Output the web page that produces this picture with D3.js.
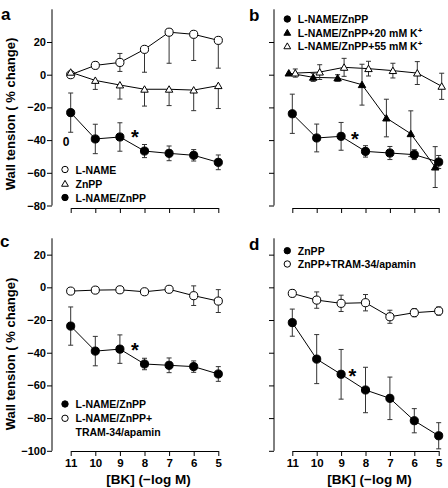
<!DOCTYPE html>
<html><head><meta charset="utf-8">
<script src="https://cdn.jsdelivr.net/npm/d3@7"></script>
<style>body{margin:0;background:#fff}svg{display:block}text{font-family:"Liberation Sans",Arial,sans-serif;font-weight:bold;fill:#000}</style>
</head><body>
<script>
const doses = [11, 10, 9, 8, 7, 6, 5];
const yTicksTop = [20, 0, -20, -40, -60, -80];
const yTicksBottom = [20, 0, -20, -40, -60, -80, -100];

// Panel a
const aLname = [0, 5.7, 7.5, 15.5, 26, 24.7, 21];
const aLnameErrHi = [0, 2, 5.5, 0, 0, 0, 0];
const aLnameErrLo = [0, 2, 5.5, 14, 19, 16, 17];
const aZnpp = [1.5, -3.5, -6.3, -8.9, -8.9, -9.4, -6.7];
const aZnppErrHi = [0, 0, 0, 0, 0, 0, 0];
const aZnppErrLo = [0, 5.5, 8.6, 10.3, 10, 12.6, 14];
const aBoth = [-23.2, -39.3, -38.1, -46.7, -48.1, -49.3, -53.6];
const aBothErr = [12, 9, 8.7, 4, 4.5, 3.5, 4.5];

// Panel b
const bBoth = [-23.9, -38.7, -37.7, -46.9, -47.9, -48.9, -53.4];
const bBothErr = [12, 8.5, 8.5, 3.5, 4, 3, 4];
const bK20 = [1, -1.6, -2, -6.1, -26.5, -36.1, -56.5];
const bK20Err = [0, 2.5, 2, 12.5, 11.5, 14, 12.5];
const bK55 = [1, 1.6, 4.5, 3.7, 2.5, 1, -7.1];
const bK55Err = [2.5, 4.5, 5.5, 4.5, 4.5, 7, 8];

// Panel c
const cBoth = [-23.7, -39, -37.8, -46.9, -47.7, -48.5, -53];
const cBothErr = [11.7, 9, 8.7, 3.5, 4.5, 3.5, 4.5];
const cTram = [-2.3, -1.7, -1.5, -2.7, -1.2, -5.1, -8.4];
const cTramErr = [1.5, 1, 1, 0.5, 0.5, 6, 7];

// Panel d
const dZnpp = [-21.6, -43.9, -53.2, -62.8, -67.9, -81.6, -90.8];
const dZnppErr = [8.3, 15, 15.2, 13.9, 13, 7.4, 8];
const dTram = [-3.7, -7.8, -9.8, -9.4, -18, -15.5, -14.5];
const dTramErr = [2, 5, 5, 5, 4, 2.5, 2.5];

const W = 448, H = 488;
const svg = d3.select("body").append("svg").attr("width", W).attr("height", H);

function marker(g, shape, filled, cx, cy, small) {
  const type = shape === "tri" ? d3.symbolTriangle : d3.symbolCircle;
  const size = shape === "tri" ? (small ? 20 : 24) : (small ? 32 : 52);
  g.append("path")
    .attr("d", d3.symbol().type(type).size(size)())
    .attr("transform", `translate(${cx},${cy + (shape === "tri" ? 0.8 : 0)})`)
    .attr("fill", filled ? "#000" : "#fff")
    .attr("stroke", "#000").attr("stroke-width", 1);
}

function panel(cfg) {
  const g = svg.append("g");
  const x = d3.scalePoint().domain(doses).range(cfg.xRange);
  const y = d3.scaleLinear().domain(cfg.yDomain).range(cfg.yRange);

  // y axis
  const yAxis = d3.axisLeft(y).tickValues(cfg.yTicks).tickSize(5).tickSizeOuter(0)
    .tickFormat(cfg.yLabels ? (d => d === 0 ? "0" : d3.format("")(d).replace("-", "\u2212")) : () => "");
  const ya = g.append("g").attr("transform", `translate(${cfg.yAxisX},0)`).call(yAxis);
  ya.select(".domain").remove();
  ya.append("line").attr("x1", 0).attr("x2", 0)
    .attr("y1", y(cfg.yDomain[1])).attr("y2", y(cfg.yDomain[0])).attr("stroke", "#000");
  ya.selectAll(".tick text").attr("font-size", 11).attr("x", -6).attr("fill", "#000")
    .style("font-family", '"Liberation Sans",Arial,sans-serif').style("font-weight", "bold");
  ya.selectAll(".tick line").attr("stroke", "#000");

  // x axis
  const xAxis = d3.axisBottom(x).tickSize(5).tickSizeOuter(0)
    .tickFormat(cfg.xLabels ? d => String(d) : () => "");
  const xa = g.append("g").attr("transform", `translate(0,${cfg.xAxisY})`).call(xAxis);
  xa.select(".domain").attr("stroke", "#000");
  xa.selectAll(".tick line").attr("stroke", "#000");
  xa.selectAll(".tick text").attr("font-size", 11.5).attr("y", 8).attr("fill", "#000")
    .style("font-family", '"Liberation Sans",Arial,sans-serif').style("font-weight", "bold");

  const line = d3.line();
  cfg.series.forEach(s => {
    const pts = doses.map((d, i) => [x(d) + (s.dx || 0), y(s.values[i])]);
    g.append("path").attr("d", line(pts)).attr("fill", "none").attr("stroke", "#000").attr("stroke-width", 1);
  });
  cfg.series.forEach(s => {
    doses.forEach((d, i) => {
      const cx = x(d) + (s.dx || 0);
      const hi = s.errHi[i], lo = s.errLo[i];
      if (hi <= 0 && lo <= 0) return;
      const yTop = y(s.values[i] + hi), yBot = y(s.values[i] - lo);
      g.append("line").attr("x1", cx).attr("x2", cx).attr("y1", yTop).attr("y2", yBot).attr("stroke", "#333");
      if (hi > 0) g.append("line").attr("x1", cx - 2.5).attr("x2", cx + 2.5).attr("y1", yTop).attr("y2", yTop).attr("stroke", "#333");
      if (lo > 0) g.append("line").attr("x1", cx - 2.5).attr("x2", cx + 2.5).attr("y1", yBot).attr("y2", yBot).attr("stroke", "#333");
    });
  });
  cfg.series.forEach(s => {
    doses.forEach((d, i) => marker(g, s.shape, s.filled, x(d) + (s.dx || 0), y(s.values[i])));
  });

  // legend
  cfg.legend.rows.forEach((r, i) => {
    const ly = cfg.legend.y + i * cfg.legend.dy;
    marker(g, r.shape, r.filled, cfg.legend.x, ly, true);
    const t = g.append("text").attr("x", cfg.legend.x + 10.5).attr("y", ly + 4).attr("font-size", 10.5);
    r.text.forEach(part => {
      if (part.sup) t.append("tspan").attr("font-size", 8).attr("dy", -4).text(part.t);
      else t.append("tspan").text(part.t);
    });
    if (r.line2) g.append("text").attr("x", cfg.legend.x + 10.5).attr("y", ly + 4 + 13.3).attr("font-size", 10.5).text(r.line2);
  });

  // star
  g.append("text").attr("x", cfg.star[0]).attr("y", cfg.star[1]).attr("text-anchor", "middle")
    .attr("font-size", 20).text("*");

  // panel letter
  g.append("text").attr("x", cfg.letterPos[0]).attr("y", cfg.letterPos[1]).attr("font-size", 17).text(cfg.letter);

  if (cfg.yTitle) {
    g.append("text").attr("transform", `translate(14.5,${cfg.yTitle}) rotate(-90)`)
      .attr("text-anchor", "middle").attr("font-size", 13).text("Wall tension ( % change)");
  }
  if (cfg.xLabels) {
    g.append("text").attr("x", (cfg.xRange[0] + cfg.xRange[1]) / 2 + 4).attr("y", 484)
      .attr("text-anchor", "middle").attr("font-size", 13.5).text("[BK] (\u2212log M)");
  }
  return { g, x, y };
}

const pa = panel({
  xRange: [70.7, 218.3], yDomain: [-80, 40], yRange: [205.5, 9.3], yTicks: yTicksTop,
  yAxisX: 52, xAxisY: 208, yLabels: true, xLabels: false,
  series: [
    { values: aLname, errHi: aLnameErrHi, errLo: aLnameErrLo, shape: "circ", filled: false },
    { values: aZnpp, errHi: aZnppErrHi, errLo: aZnppErrLo, shape: "tri", filled: false },
    { values: aBoth, errHi: aBothErr, errLo: aBothErr, shape: "circ", filled: true }
  ],
  legend: { x: 65, y: 169.5, dy: 14, rows: [
    { shape: "circ", filled: false, text: [{ t: "L-NAME" }] },
    { shape: "tri", filled: false, text: [{ t: "ZnPP" }] },
    { shape: "circ", filled: true, text: [{ t: "L-NAME/ZnPP" }] }
  ] },
  star: [135, 144], letter: "a", letterPos: [1, 20], yTitle: 114
});
pa.g.append("text").attr("x", 66).attr("y", 146).attr("text-anchor", "middle").attr("font-size", 12).attr("fill", "#000").text("0");

panel({
  xRange: [292.3, 438.7], yDomain: [-80, 40], yRange: [205.5, 9.3], yTicks: yTicksTop,
  yAxisX: 274, xAxisY: 208, yLabels: false, xLabels: false,
  series: [
    { values: bBoth, errHi: bBothErr, errLo: bBothErr, shape: "circ", filled: true, dx: 0 },
    { values: bK20, errHi: bK20Err, errLo: bK20Err, shape: "tri", filled: true, dx: -3.5 },
    { values: bK55, errHi: bK55Err, errLo: bK55Err, shape: "tri", filled: false, dx: 3 }
  ],
  legend: { x: 287.3, y: 19, dy: 13.5, rows: [
    { shape: "circ", filled: true, text: [{ t: "L-NAME/ZnPP" }] },
    { shape: "tri", filled: true, text: [{ t: "L-NAME/ZnPP+20 mM K" }, { t: "+", sup: true }] },
    { shape: "tri", filled: false, text: [{ t: "L-NAME/ZnPP+55 mM K" }, { t: "+", sup: true }] }
  ] },
  star: [355, 146], letter: "b", letterPos: [249, 21], yTitle: null
});

panel({
  xRange: [70.7, 218.3], yDomain: [-100, 30], yRange: [450.8, 238.3], yTicks: yTicksBottom,
  yAxisX: 52, xAxisY: 451, yLabels: true, xLabels: true,
  series: [
    { values: cTram, errHi: cTramErr, errLo: cTramErr, shape: "circ", filled: false },
    { values: cBoth, errHi: cBothErr, errLo: cBothErr, shape: "circ", filled: true }
  ],
  legend: { x: 65, y: 404, dy: 14.3, rows: [
    { shape: "circ", filled: true, text: [{ t: "L-NAME/ZnPP" }] },
    { shape: "circ", filled: false, text: [{ t: "L-NAME/ZnPP+" }], line2: "TRAM-34/apamin" }
  ] },
  star: [135, 357], letter: "c", letterPos: [0, 247], yTitle: 354
});

panel({
  xRange: [292.3, 438.7], yDomain: [-100, 30], yRange: [450.8, 238.3], yTicks: yTicksBottom,
  yAxisX: 274, xAxisY: 451, yLabels: false, xLabels: true,
  series: [
    { values: dTram, errHi: dTramErr, errLo: dTramErr, shape: "circ", filled: false },
    { values: dZnpp, errHi: dZnppErr, errLo: dZnppErr, shape: "circ", filled: true }
  ],
  legend: { x: 287.3, y: 250.7, dy: 13.3, rows: [
    { shape: "circ", filled: true, text: [{ t: "ZnPP" }] },
    { shape: "circ", filled: false, text: [{ t: "ZnPP+TRAM-34/apamin" }] }
  ] },
  star: [352.5, 382.5], letter: "d", letterPos: [249, 250], yTitle: null
});
</script>
</body></html>
